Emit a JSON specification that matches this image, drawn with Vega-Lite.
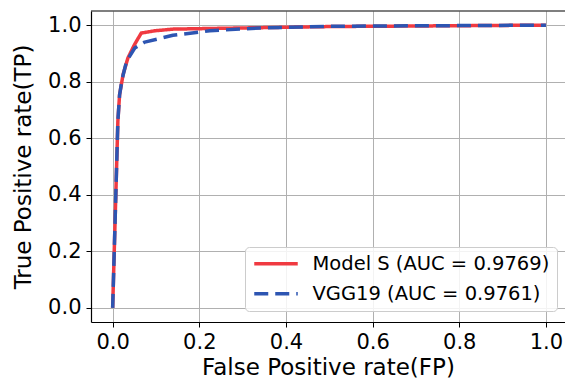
{
  "$schema": "https://vega.github.io/schema/vega-lite/v6.json",
  "autosize": {"type": "none"},
  "padding": {"left": 91, "top": 11, "right": 0, "bottom": 61},
  "width": 474,
  "height": 311,
  "background": "white",
  "config": {
    "font": "DejaVu Sans",
    "view": {"stroke": null},
    "axis": {
      "labelFont": "DejaVu Sans",
      "titleFont": "DejaVu Sans",
      "labelFontSize": 21,
      "titleFontSize": 23,
      "titleFontWeight": "normal",
      "labelColor": "#000000",
      "titleColor": "#000000",
      "domainColor": "#000000",
      "domainWidth": 1.2,
      "tickColor": "#000000",
      "tickSize": 5,
      "tickWidth": 1,
      "gridColor": "#b0b0b0",
      "gridWidth": 1,
      "gridOpacity": 1
    }
  },
  "datasets": {
    "roc": [
      {"model": "Model S (AUC = 0.9769)", "fpr": 0, "tpr": 0},
      {"model": "Model S (AUC = 0.9769)", "fpr": 0.012, "tpr": 0.66},
      {"model": "Model S (AUC = 0.9769)", "fpr": 0.016, "tpr": 0.754},
      {"model": "Model S (AUC = 0.9769)", "fpr": 0.024, "tpr": 0.825},
      {"model": "Model S (AUC = 0.9769)", "fpr": 0.035, "tpr": 0.883},
      {"model": "Model S (AUC = 0.9769)", "fpr": 0.05, "tpr": 0.93},
      {"model": "Model S (AUC = 0.9769)", "fpr": 0.066, "tpr": 0.972},
      {"model": "Model S (AUC = 0.9769)", "fpr": 0.097, "tpr": 0.98},
      {"model": "Model S (AUC = 0.9769)", "fpr": 0.14, "tpr": 0.986},
      {"model": "Model S (AUC = 0.9769)", "fpr": 0.3, "tpr": 0.99},
      {"model": "Model S (AUC = 0.9769)", "fpr": 0.5, "tpr": 0.995},
      {"model": "Model S (AUC = 0.9769)", "fpr": 1, "tpr": 1},
      {"model": "VGG19 (AUC = 0.9761)", "fpr": 0, "tpr": 0},
      {"model": "VGG19 (AUC = 0.9761)", "fpr": 0.012, "tpr": 0.66},
      {"model": "VGG19 (AUC = 0.9761)", "fpr": 0.016, "tpr": 0.754},
      {"model": "VGG19 (AUC = 0.9761)", "fpr": 0.022, "tpr": 0.81},
      {"model": "VGG19 (AUC = 0.9761)", "fpr": 0.032, "tpr": 0.872},
      {"model": "VGG19 (AUC = 0.9761)", "fpr": 0.051, "tpr": 0.919},
      {"model": "VGG19 (AUC = 0.9761)", "fpr": 0.074, "tpr": 0.94},
      {"model": "VGG19 (AUC = 0.9761)", "fpr": 0.112, "tpr": 0.954},
      {"model": "VGG19 (AUC = 0.9761)", "fpr": 0.139, "tpr": 0.964},
      {"model": "VGG19 (AUC = 0.9761)", "fpr": 0.224, "tpr": 0.98},
      {"model": "VGG19 (AUC = 0.9761)", "fpr": 0.34, "tpr": 0.99},
      {"model": "VGG19 (AUC = 0.9761)", "fpr": 0.5, "tpr": 0.996},
      {"model": "VGG19 (AUC = 0.9761)", "fpr": 1, "tpr": 1}
    ],
    "frame": [{"top": 1.05}]
  },
  "layer": [
    {
      "data": {"name": "roc"},
      "mark": {"type": "line", "strokeWidth": 3.5, "strokeCap": "butt", "strokeJoin": "round"},
      "encoding": {
        "x": {
          "field": "fpr", "type": "quantitative",
          "scale": {"domain": [-0.05, 1.044], "nice": false, "zero": false},
          "axis": {"values": [0, 0.2, 0.4, 0.6, 0.8, 1.0], "format": ".1f", "title": "False Positive rate(FP)", "labelPadding": 4, "titlePadding": 4, "grid": true}
        },
        "y": {
          "field": "tpr", "type": "quantitative",
          "scale": {"domain": [-0.05, 1.05], "nice": false, "zero": false},
          "axis": {"values": [0, 0.2, 0.4, 0.6, 0.8, 1.0], "format": ".1f", "title": "True Positive rate(TP)", "labelPadding": 5, "titlePadding": 12, "grid": true}
        },
        "color": {
          "field": "model", "type": "nominal",
          "scale": {"domain": ["Model S (AUC = 0.9769)", "VGG19 (AUC = 0.9761)"], "range": ["#f03a41", "#2d55b2"]},
          "legend": {
            "title": null,
            "orient": "none",
            "legendX": 154,
            "legendY": 236,
            "symbolType": "M-1,0H4.8",
            "symbolSize": 225,
            "symbolStrokeWidth": 3.5,
            "labelFont": "DejaVu Sans",
            "labelFontSize": 19.5,
            "labelColor": "#000000",
            "labelOffset": 41,
            "labelLimit": 400,
            "rowPadding": 9,
            "padding": 7,
            "strokeColor": "#cccccc",
            "cornerRadius": 4,
            "fillColor": "rgba(255,255,255,0.85)"
          }
        },
        "strokeDash": {
          "field": "model", "type": "nominal",
          "scale": {"domain": ["Model S (AUC = 0.9769)", "VGG19 (AUC = 0.9761)"], "range": [[1, 0], [14, 7]]},
          "legend": null
        }
      }
    },
    {
      "data": {"name": "frame"},
      "mark": {"type": "rule", "color": "#000000", "strokeWidth": 1.2},
      "encoding": {
        "y": {"field": "top", "type": "quantitative"}
      }
    }
  ]
}
